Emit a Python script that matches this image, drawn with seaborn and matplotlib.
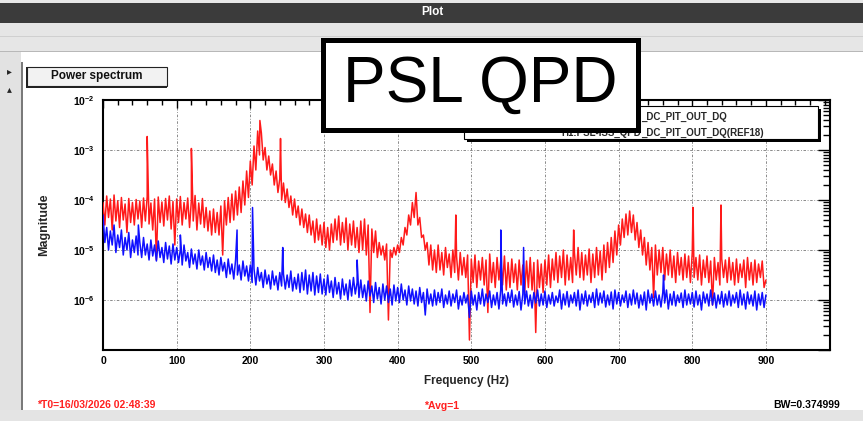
import numpy as np
import pandas as pd
import matplotlib
matplotlib.use("Agg")
import matplotlib.pyplot as plt
from matplotlib.patches import Rectangle
from matplotlib.ticker import FixedLocator, MultipleLocator, LogLocator, FuncFormatter, NullFormatter
import seaborn as sns

# ---------------- data (log10 magnitude) ----------------
# upper envelope of the noisy trace, every 5 Hz from 0 to 900 Hz
red_hi = [
    -4.05, -3.92, -3.98, -3.90, -4.02, -3.95, -4.08, -3.97, -4.05, -3.99,
    -4.02, -3.96, -3.93, -4.06, -3.98, -3.94, -4.04, -3.97, -3.92, -4.03,
    -3.98, -3.93, -4.05, -3.96, -4.00, -3.91, -4.06, -3.97, -4.15, -4.22,
    -4.18, -4.25, -4.12, -4.02, -3.95, -3.88, -3.82, -3.74, -3.62, -3.42,
    -3.22, -2.92, -2.62, -2.66, -2.95, -3.12, -3.28, -3.42, -3.58, -3.66,
    -3.78, -3.92, -3.98, -4.12, -4.18, -4.28, -4.30, -4.42, -4.38, -4.50,
    -4.45, -4.55, -4.48, -4.38, -4.32, -4.45, -4.36, -4.48, -4.42, -4.55,
    -4.42, -4.38, -4.50, -4.58, -4.62, -4.85, -4.92, -4.88, -5.00, -4.95,
    -4.90, -4.75, -4.55, -4.30, -4.05, -3.85, -4.35, -4.70, -4.85, -4.90,
    -5.00, -4.90, -5.05, -4.95, -5.08, -5.00, -5.12, -5.05, -5.15, -5.10,
    -5.18, -5.10, -5.22, -5.15, -5.20, -5.08, -5.25, -5.15, -5.22, -5.12,
    -5.25, -5.18, -5.28, -5.20, -5.30, -5.22, -5.15, -5.25, -5.20, -5.28,
    -5.20, -5.10, -5.18, -5.05, -5.12, -5.00, -5.10, -5.15, -5.05, -4.95,
    -5.05, -5.10, -4.98, -5.08, -4.95, -5.02, -4.90, -4.85, -4.75, -4.62,
    -4.50, -4.38, -4.28, -4.22, -4.30, -4.45, -4.60, -4.75, -4.85, -4.95,
    -4.90, -5.00, -4.95, -5.08, -5.00, -5.12, -5.05, -5.15, -5.08, -5.12,
    -5.05, -5.15, -5.10, -5.20, -5.12, -5.22, -5.15, -5.25, -5.18, -5.20,
    -5.15, -5.25, -5.18, -5.28, -5.20, -5.15, -5.25, -5.20, -5.28, -5.22,
    -5.60,
]
# lower envelope, every 5 Hz from 2.5 to 897.5 Hz
red_lo = [
    -4.50, -4.35, -4.60, -4.42, -4.55, -4.40, -4.65, -4.45, -4.50, -4.38,
    -4.55, -4.42, -4.48, -4.60, -5.20, -4.45, -4.52, -4.40, -4.58, -4.90,
    -4.45, -4.50, -4.38, -4.55, -4.42, -4.60, -4.48, -4.55, -4.62, -4.70,
    -4.65, -4.70, -5.10, -4.50, -4.45, -4.40, -4.30, -4.25, -4.10, -3.95,
    -3.70, -3.40, -3.10, -3.20, -3.40, -3.50, -3.70, -3.85, -4.00, -4.05,
    -4.15, -4.30, -4.35, -4.50, -4.55, -4.65, -4.70, -4.85, -4.80, -4.90,
    -4.95, -5.00, -4.85, -4.80, -4.90, -4.85, -5.00, -4.90, -4.95, -5.05,
    -5.00, -5.10, -6.25, -5.05, -5.15, -5.10, -5.20, -6.40, -5.15, -5.10,
    -5.05, -4.90, -4.70, -4.50, -4.35, -4.50, -4.75, -5.00, -5.30, -5.40,
    -5.45, -5.40, -5.50, -5.35, -5.55, -5.45, -5.60, -5.50, -5.55, -6.80,
    -5.65, -5.75, -5.60, -5.70, -6.25, -5.65, -5.75, -5.60, -5.70, -5.80,
    -5.75, -5.65, -5.80, -5.70, -5.85, -5.75, -5.80, -6.65, -5.75, -5.85,
    -5.70, -5.75, -5.60, -5.65, -5.55, -5.70, -5.60, -5.65, -5.50, -5.55,
    -5.60, -5.50, -5.65, -5.55, -5.50, -5.60, -5.45, -5.35, -5.25, -5.10,
    -4.90, -4.75, -4.70, -4.65, -4.80, -4.95, -5.10, -5.30, -5.40, -5.95,
    -5.50, -5.45, -5.60, -5.50, -5.55, -5.65, -5.50, -5.60, -5.55, -5.65,
    -5.55, -5.60, -5.70, -5.55, -5.65, -6.10, -5.60, -5.70, -5.55, -5.65,
    -5.60, -5.70, -5.65, -5.55, -5.75, -5.60, -5.70, -5.65, -5.55, -5.75,
]
red_spike_f = [60, 120, 213, 241, 479, 639, 801, 839]
red_spike_v = [-2.73, -2.97, -2.41, -2.77, -4.30, -4.60, -4.15, -4.10]

blue_hi = [
    -4.30, -4.55, -4.62, -4.50, -4.70, -4.60, -4.75, -4.65, -4.80, -4.72,
    -4.85, -4.75, -4.88, -4.80, -4.90, -4.82, -4.95, -4.85, -4.92, -4.88,
    -4.95, -5.00, -4.90, -5.05, -4.98, -5.08, -5.00, -5.12, -5.05, -5.15,
    -5.10, -5.20, -5.15, -5.25, -5.18, -5.28, -5.20, -5.30, -5.22, -5.32,
    -5.30, -5.38, -5.35, -5.45, -5.40, -5.50, -5.42, -5.52, -5.45, -5.48,
    -5.50, -5.42, -5.55, -5.48, -5.45, -5.40, -5.50, -5.45, -5.52, -5.48,
    -5.58, -5.50, -5.62, -5.55, -5.65, -5.58, -5.68, -5.60, -5.55, -5.65,
    -5.60, -5.70, -5.62, -5.72, -5.65, -5.75, -5.68, -5.72, -5.78, -5.70,
    -5.75, -5.68, -5.80, -5.72, -5.78, -5.82, -5.75, -5.85, -5.78, -5.88,
    -5.80, -5.85, -5.78, -5.90, -5.82, -5.88, -5.80, -5.92, -5.85, -5.90,
    -5.82, -5.90, -5.85, -5.78, -5.88, -5.82, -5.90, -5.85, -5.80, -5.88,
    -5.85, -5.80, -5.90, -5.83, -5.88, -5.82, -5.90, -5.85, -5.80, -5.88,
    -5.82, -5.90, -5.85, -5.92, -5.80, -5.88, -5.83, -5.90, -5.85, -5.80,
    -5.88, -5.82, -5.90, -5.85, -5.78, -5.86, -5.82, -5.90, -5.84, -5.80,
    -5.85, -5.90, -5.82, -5.88, -5.80, -5.86, -5.90, -5.84, -5.80, -5.88,
    -5.82, -5.90, -5.85, -5.80, -5.88, -5.83, -5.90, -5.86, -5.80, -5.88,
    -5.85, -5.82, -5.90, -5.84, -5.88, -5.80, -5.86, -5.90, -5.83, -5.88,
    -5.82, -5.90, -5.85, -5.80, -5.88, -5.84, -5.90, -5.82, -5.88, -5.85,
    -5.90,
]
blue_lo = [
    -4.85, -5.00, -4.90, -5.05, -4.95, -5.10, -5.00, -5.15, -5.05, -5.10,
    -5.15, -5.10, -5.20, -5.12, -5.22, -5.15, -5.25, -5.18, -5.28, -5.20,
    -5.25, -5.30, -5.22, -5.35, -5.28, -5.38, -5.30, -5.40, -5.35, -5.42,
    -5.45, -5.50, -5.42, -5.55, -5.48, -5.58, -5.50, -5.60, -5.52, -5.62,
    -5.65, -5.70, -5.62, -5.75, -5.68, -5.78, -5.70, -5.80, -5.72, -5.78,
    -5.75, -5.82, -5.78, -5.85, -5.80, -5.88, -5.82, -5.90, -5.85, -5.88,
    -5.90, -5.85, -5.95, -5.88, -5.98, -5.90, -6.00, -5.92, -5.88, -5.95,
    -5.95, -6.02, -5.92, -6.05, -5.98, -6.08, -6.00, -6.05, -6.10, -6.02,
    -6.05, -6.00, -6.10, -6.02, -6.08, -6.12, -6.05, -6.30, -6.08, -6.12,
    -6.10, -6.05, -6.15, -6.08, -6.12, -6.05, -6.18, -6.10, -6.06, -6.35,
    -6.10, -6.20, -6.08, -6.12, -6.05, -6.15, -6.10, -6.18, -6.08, -6.12,
    -6.05, -6.14, -6.10, -6.20, -6.08, -6.12, -6.16, -6.06, -6.12, -6.10,
    -6.15, -6.08, -6.12, -6.05, -6.18, -6.10, -6.14, -6.06, -6.12, -6.20,
    -6.08, -6.12, -6.05, -6.15, -6.10, -6.06, -6.14, -6.10, -6.18, -6.08,
    -6.12, -6.05, -6.15, -6.10, -6.08, -6.16, -6.10, -6.20, -6.06, -6.12,
    -6.10, -6.14, -6.06, -6.18, -6.10, -6.12, -6.05, -6.15, -6.10, -6.08,
    -6.14, -6.10, -6.20, -6.06, -6.12, -6.10, -6.16, -6.08, -6.14, -6.10,
    -6.12, -6.06, -6.15, -6.10, -6.18, -6.08, -6.12, -6.20, -6.10, -6.15,
]
blue_spike_f = [48, 105, 182, 203, 244, 345, 540, 571, 761]
blue_spike_v = [-4.50, -4.70, -4.60, -4.15, -4.95, -5.20, -4.60, -4.95, -5.50]

hi_freq = np.arange(0, 901, 5.0)
lo_freq = np.arange(2.5, 900, 5.0)

x_ticks = [0, 100, 200, 300, 400, 500, 600, 700, 800, 900]
y_decades = [-7, -6, -5, -4, -3, -2]
legend_prefix = "H1:PSL-ISS_QPD"
legend_suffix = ["_DC_PIT_OUT_DQ", "_DC_PIT_OUT_DQ(REF18)"]


def trace(hi, lo, sf, sv):
    f = np.concatenate([hi_freq, lo_freq, sf])
    v = np.concatenate([hi, lo, sv])
    o = np.argsort(f, kind="stable")
    return pd.DataFrame({"freq": f[o], "mag": 10.0 ** v[o]})


red_df = trace(np.array(red_hi), np.array(red_lo), np.array(red_spike_f, float), np.array(red_spike_v))
blue_df = trace(np.array(blue_hi), np.array(blue_lo), np.array(blue_spike_f, float), np.array(blue_spike_v))

# ---------------- figure ----------------
sns.set_theme(style="white")
plt.rcParams["font.family"] = ["Liberation Sans", "DejaVu Sans"]
plt.rcParams["mathtext.fontset"] = "custom"
plt.rcParams["mathtext.rm"] = "Liberation Sans"
plt.rcParams["mathtext.bf"] = "Liberation Sans:bold"

W, H = 863, 421
fig = plt.figure(figsize=(W / 100, H / 100), dpi=100)
fig.patch.set_facecolor("white")


def fx(x):
    return x / W


def fy(y):
    return 1 - y / H


def rect(x0, y0, x1, y1, **kw):
    r = Rectangle((fx(x0), fy(y1)), fx(x1) - fx(x0), fy(y0) - fy(y1),
                  transform=fig.transFigure, **kw)
    fig.add_artist(r)
    return r


# window chrome
rect(0, 0, W, 23, facecolor="#3b3b3b", edgecolor="none", zorder=0)
rect(0, 0, W, 3, facecolor="#e8e8e8", edgecolor="none", zorder=0)
rect(0, 23, W, 52, facecolor="#e6e6e6", edgecolor="none", zorder=0)
rect(0, 36, W, 37, facecolor="#d0d0d0", edgecolor="none", zorder=0)
rect(0, 51, W, 52, facecolor="#b8b8b8", edgecolor="none", zorder=0)
rect(0, 52, 21, H, facecolor="#e2e2e2", edgecolor="none", zorder=0)
rect(21, 62, 22.5, 410, facecolor="#7a7a7a", edgecolor="none", zorder=0)
rect(0, 410, W, H, facecolor="#e4e4e4", edgecolor="none", zorder=0)
fig.text(fx(432), fy(12), "Plot", color="white", fontsize=8.5, fontweight="bold",
         ha="center", va="center")
fig.text(fx(9), fy(71), "\u25b8", fontsize=7, ha="center", va="center", family="DejaVu Sans")
fig.text(fx(9), fy(89), "\u25b4", fontsize=7, ha="center", va="center", family="DejaVu Sans")

# "Power spectrum" tab
rect(27, 67, 167, 86, facecolor="#f2f2f2", edgecolor="#222222", linewidth=0.8, zorder=1)
rect(26, 67, 28, 88, facecolor="#222222", edgecolor="none", zorder=1)
rect(26, 86, 167, 88, facecolor="#222222", edgecolor="none", zorder=1)
fig.text(fx(97), fy(76), "Power spectrum", fontsize=8.5, fontweight="bold",
         ha="center", va="center", color="#111111")

# axes
ax = fig.add_axes([fx(103), fy(350), fx(830) - fx(103), fy(100) - fy(350)])
ax.set_facecolor("white")
ax.set_yscale("log")
sns.lineplot(data=red_df, x="freq", y="mag", color="#ff1a1a", linewidth=1.1,
             estimator=None, sort=False, ax=ax, zorder=3)
sns.lineplot(data=blue_df, x="freq", y="mag", color="#1010ff", linewidth=1.1,
             estimator=None, sort=False, ax=ax, zorder=4)
ax.set_xlim(0, 987)
ax.set_ylim(10.0 ** y_decades[0], 10.0 ** y_decades[-1])
ax.set_xlabel("")
ax.set_ylabel("")

ax.xaxis.set_major_locator(FixedLocator(x_ticks))
ax.xaxis.set_minor_locator(MultipleLocator(20))
ax.yaxis.set_major_locator(FixedLocator([10.0 ** d for d in y_decades]))
ax.yaxis.set_minor_locator(LogLocator(base=10, subs=np.arange(2, 10), numticks=20))
ax.yaxis.set_minor_formatter(NullFormatter())
ax.yaxis.set_major_formatter(FuncFormatter(
    lambda v, p: r"$\mathbf{10^{%d}}$" % round(np.log10(v)) if round(np.log10(v)) > -7 else ""))
ax.xaxis.set_major_formatter(FuncFormatter(lambda v, p: "%d" % v))

ax.tick_params(which="both", direction="in", top=True, right=True, colors="black",
               width=1.0)
ax.tick_params(axis="y", which="major", length=9, labelsize=7.5, pad=6)
ax.tick_params(axis="y", which="minor", length=5)
ax.tick_params(axis="x", which="major", length=6, labelsize=7.5, pad=4)
ax.tick_params(axis="x", which="minor", length=3.5)
for lab in ax.get_xticklabels():
    lab.set_fontweight("bold")

ax.grid(True, which="major", color="#777777", linestyle=(0, (3, 2, 1, 2)), linewidth=0.6)
for s in ax.spines.values():
    s.set_linewidth(1.5)
    s.set_color("black")

fig.text(fx(44), fy(225), "Magnitude", rotation=90, fontsize=9, fontweight="bold",
         ha="center", va="center")
fig.text(fx(466), fy(381), "Frequency (Hz)", fontsize=8.5, fontweight="bold",
         ha="center", va="center")

# bottom status texts
fig.text(fx(37), fy(405), "*T0=16/03/2026 02:48:39", color="#ff2020", fontsize=7.5,
         fontweight="bold", ha="left", va="center")
fig.text(fx(424), fy(406), "*Avg=1", color="#ff2020", fontsize=7.5,
         fontweight="bold", ha="left", va="center")
fig.text(fx(840), fy(405), "BW=0.374999", color="black", fontsize=7.5,
         fontweight="bold", ha="right", va="center")

# legend box (its left part lies under the label box, as in the screenshot)
rect(467, 109, 821, 142, facecolor="black", edgecolor="none", zorder=6)
rect(464, 106, 818, 139, facecolor="white", edgecolor="black", linewidth=0.8, zorder=7)
fig.text(fx(641), fy(117), legend_suffix[0], fontsize=7, fontweight="bold",
         ha="left", va="center", zorder=8)
fig.text(fx(641), fy(132.5), legend_prefix, fontsize=7, fontweight="bold",
         ha="right", va="center", zorder=8)
fig.text(fx(641), fy(132.5), legend_suffix[1], fontsize=7, fontweight="bold",
         ha="left", va="center", zorder=8)

# overlay label box
rect(322.5, 40.5, 637.5, 129.5, facecolor="white", edgecolor="black", linewidth=3.6, zorder=20)
fig.text(fx(480), fy(85), "PSL QPD", fontsize=46, ha="center", va="center",
         color="black", zorder=21)

fig.savefig("out.png", dpi=100, facecolor=fig.get_facecolor())
